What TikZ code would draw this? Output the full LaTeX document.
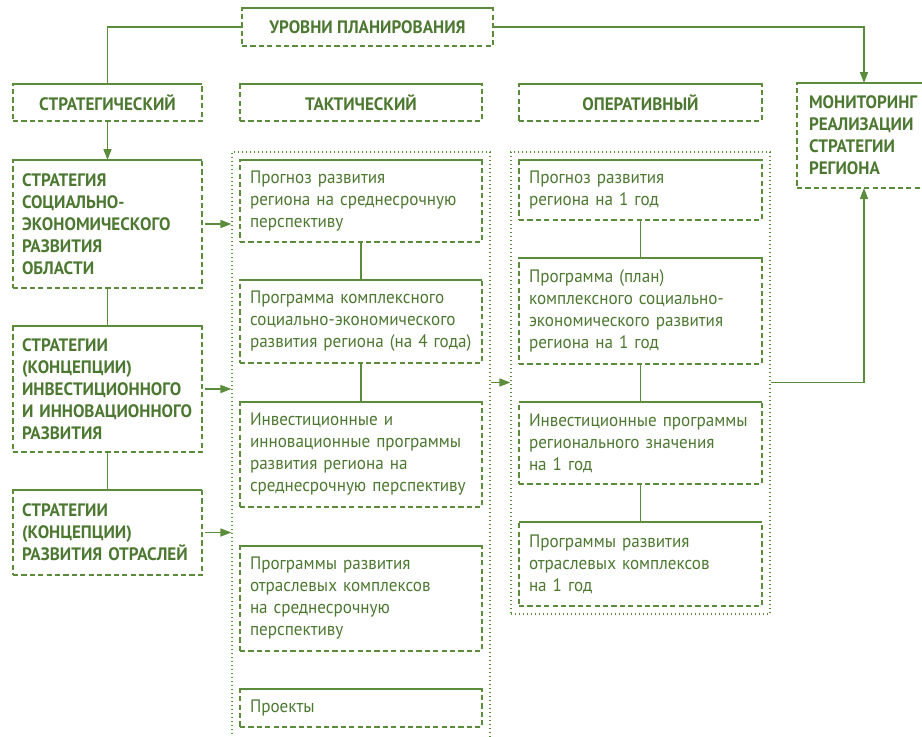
\documentclass[tikz,border=0pt]{standalone}
\usepackage{fontspec}
\setmainfont{PT Sans}[FakeStretch=0.95]
\usepackage{tikz}
\usetikzlibrary{arrows.meta, positioning, fit, calc}
\definecolor{linecolor}{HTML}{5B8C3C}
\definecolor{textcolor}{HTML}{4C7831}

\begin{document}
\begin{tikzpicture}[
    font=\fontsize{9}{11}\selectfont,
    box/.style={rectangle, draw=linecolor, line width=1pt,
                dash pattern=on 2.6pt off 1.6pt, text=textcolor,
                inner xsep=5pt, inner ysep=2pt, outer sep=0pt,
                append after command={(\tikzlastnode.north west)
                    edge[solid, draw=linecolor, line width=1pt] (\tikzlastnode.north east)}},
    level/.style={box, font=\fontsize{9}{11}\selectfont\bfseries, align=center,
                  minimum height=18.5pt},
    strat/.style={box, font=\fontsize{9}{11}\selectfont\bfseries, text width=85.5pt,
                  inner xsep=4.5pt, align=left},
    plan/.style={box, text width=111pt, align=left},
    group/.style={draw=linecolor, line width=0.6pt, dash pattern=on 0.7pt off 1.3pt,
                  inner sep=4pt},
    link/.style={draw=linecolor, line width=0.8pt},
    arrow/.style={link, -{Triangle[length=5.5pt, width=4pt]}}
]
    \useasboundingbox (0,0) rectangle (461pt,-368pt);
    \clip (0,0) rectangle (461pt,-368pt);

    % Levels
    \node[level, minimum width=125.5pt, minimum height=19pt] (title) at (183.75pt,-13.5pt) {УРОВНИ ПЛАНИРОВАНИЯ};
    \node[level, minimum width=94.5pt] (strat) at (53.75pt,-51.25pt) {СТРАТЕГИЧЕСКИЙ};
    \node[level, minimum width=121pt] (tact) at (180.5pt,-51.25pt) {ТАКТИЧЕСКИЙ};
    \node[level, minimum width=121.5pt] (oper) at (320.25pt,-51.25pt) {ОПЕРАТИВНЫЙ};
    \node[strat, text width=55pt, inner xsep=6pt, minimum height=52.5pt] (monitor) at (432pt,-67.75pt)
        {МОНИТОРИНГ\\РЕАЛИЗАЦИИ\\СТРАТЕГИИ\\РЕГИОНА};

    % Strategic
    \node[strat, minimum height=64pt, below=19.5pt of strat] (socecon)
        {СТРАТЕГИЯ\\СОЦИАЛЬНО-\\ЭКОНОМИЧЕСКОГО\\РАЗВИТИЯ\\ОБЛАСТИ};
    \node[strat, minimum height=63pt, below=19pt of socecon] (invest)
        {СТРАТЕГИИ\\(КОНЦЕПЦИИ)\\ИНВЕСТИЦИОННОГО\\И~ИННОВАЦИОННОГО\\РАЗВИТИЯ};
    \node[strat, minimum height=42.5pt, below=19pt of invest] (branch)
        {СТРАТЕГИИ\\(КОНЦЕПЦИИ)\\РАЗВИТИЯ~ОТРАСЛЕЙ};

    % Tactical
    \node[plan, minimum height=41pt, below=19.5pt of tact] (midforecast)
        {Прогноз~развития\\региона~на~среднесрочную\\перспективу};
    \node[plan, minimum height=41.5pt, below=19pt of midforecast] (complexprog)
        {Программа~комплексного\\\mbox{социально-экономического}\\развития~региона~(на~4~года)};
    \node[plan, minimum height=52.5pt, below=19.5pt of complexprog] (investprog)
        {Инвестиционные~и\\инновационные~программы\\развития~региона~на\\среднесрочную~перспективу};
    \node[plan, minimum height=52.5pt, below=19.5pt of investprog] (branchprog)
        {Программы~развития\\отраслевых~комплексов\\на~среднесрочную\\перспективу};
    \node[plan, minimum height=19pt, below=19pt of branchprog] (projects) {Проекты};
    \coordinate[below=6pt of projects] (tactend);

    % Operational
    \node[plan, text width=111.5pt, minimum height=30pt, below=19.5pt of oper] (yearforecast)
        {Прогноз~развития\\региона~на~1~год};
    \node[plan, text width=111.5pt, minimum height=53pt, below=19pt of yearforecast] (yearplan)
        {Программа~(план)\\комплексного~социально-\\экономического~развития\\региона~на~1~год};
    \node[plan, text width=111.5pt, minimum height=41pt, below=19pt of yearplan] (regprog)
        {Инвестиционные~программы\\регионального~значения\\на~1~год};
    \node[plan, text width=111.5pt, minimum height=42pt, below=19pt of regprog] (yearbranch)
        {Программы~развития\\отраслевых~комплексов\\на~1~год};

    % Groups
    \node[group, fit=(midforecast)(projects)(tactend)] (tactgroup) {};
    \node[group, fit=(yearforecast)(yearbranch)] (opergroup) {};

    % Arrows
    \draw[link] (title.west) -| (strat.north);
    \draw[arrow] (title.east) -| (monitor.north);
    \draw[arrow] (strat) -- (socecon);
    \draw[link] (socecon) -- (invest);
    \draw[link] (invest) -- (branch);
    \draw[link] (midforecast) -- (complexprog);
    \draw[link] (complexprog) -- (investprog);
    \draw[link] (yearforecast) -- (yearplan);
    \draw[link] (yearplan) -- (regprog);
    \draw[link] (regprog) -- (yearbranch);
    \draw[arrow] ([xshift=1.5pt]socecon.east) -- (socecon.east -| tactgroup.west);
    \draw[arrow] ([xshift=1.5pt]invest.east) -- (invest.east -| tactgroup.west);
    \draw[arrow] ([xshift=1.5pt]branch.east) -- (branch.east -| tactgroup.west);
    \coordinate (mid) at ($(complexprog.south)!0.5!(investprog.north)$);
    \draw[arrow] (mid -| tactgroup.east) -- (mid -| opergroup.west);
    \draw[arrow] (mid -| opergroup.east) -| (monitor.south);

\end{tikzpicture}
\end{document}
